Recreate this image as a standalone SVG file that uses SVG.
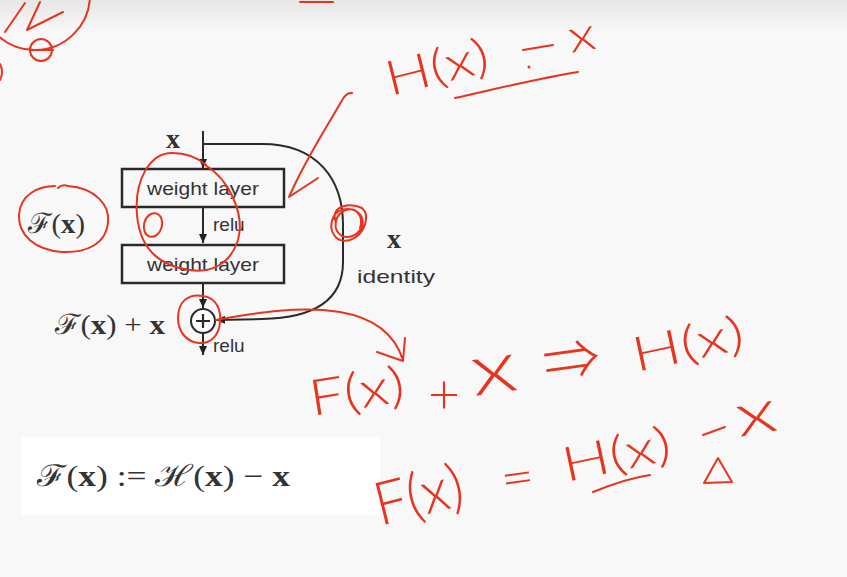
<svg xmlns="http://www.w3.org/2000/svg" width="847" height="577" viewBox="0 0 847 577">
<defs>
<linearGradient id="topband" x1="0" y1="0" x2="0" y2="1">
<stop offset="0" stop-color="#e6e6e6"/>
<stop offset="1" stop-color="#f8f8f8"/>
</linearGradient>
<marker id="ah" markerUnits="userSpaceOnUse" markerWidth="10" markerHeight="10" refX="9" refY="5" orient="auto">
<path d="M0,1 L9,5 L0,9 z" fill="#222"/>
</marker>
<style>
.box{fill:none;stroke:#2a2a2a;stroke-width:2.5}
.wire{fill:none;stroke:#2a2a2a;stroke-width:2}
.sans{font-family:"Liberation Sans","DejaVu Sans",sans-serif;fill:#333;font-size:19px}
.math{font-family:"Liberation Serif","DejaVu Serif",serif;fill:#333}
.mx{font-weight:bold;font-size:28px}
.red{fill:none;stroke:#e8331f;stroke-width:2;stroke-linecap:round;stroke-linejoin:round}
.hand{font-family:Lato,"Liberation Sans","DejaVu Sans",sans-serif;font-weight:300;fill:#e8331f}
.sym{font-family:"Noto Sans CJK JP","DejaVu Sans",sans-serif;font-weight:300;fill:#e8331f}
</style>
</defs>
<rect x="0" y="0" width="847" height="577" fill="#f8f8f8"/>
<rect x="0" y="0" width="847" height="32" fill="url(#topband)"/>
<rect x="22" y="437" width="358" height="78" fill="#ffffff"/>

<g id="connectors">
<path class="wire" d="M203,131 V168" marker-end="url(#ah)"/>
<path class="wire" d="M203,207 V243" marker-end="url(#ah)"/>
<path class="wire" d="M203,284 V308" marker-end="url(#ah)"/>
<path class="wire" d="M203,333 V355" marker-end="url(#ah)"/>
<path class="wire" d="M203,144 H262 C318,144 343,180 343,225 V262 C343,300 315,318 262,319 L216,320" marker-end="url(#ah)"/>
</g>

<g id="input-x"><text class="math mx" x="173" y="148" text-anchor="middle">x</text></g>
<g id="weight-layer-1">
<rect class="box" x="122" y="169" width="162" height="38"/>
<text class="sans" x="203" y="195" text-anchor="middle" textLength="112" lengthAdjust="spacingAndGlyphs">weight layer</text>
</g>
<g id="relu-1"><text class="sans" x="213" y="231">relu</text></g>
<g id="weight-layer-2">
<rect class="box" x="122" y="245" width="162" height="38"/>
<text class="sans" x="203" y="271" text-anchor="middle" textLength="112" lengthAdjust="spacingAndGlyphs">weight layer</text>
</g>
<g id="sum">
<circle cx="203" cy="321" r="12" fill="#fff" stroke="#2a2a2a" stroke-width="2"/>
<path d="M196,321 H210 M203,314 V328" stroke="#2a2a2a" stroke-width="2.2"/>
</g>
<g id="relu-2"><text class="sans" x="213" y="352">relu</text></g>
<g id="identity-label">
<text class="math mx" x="394" y="248" text-anchor="middle">x</text>
<text class="sans" x="396" y="283" text-anchor="middle" textLength="78" lengthAdjust="spacingAndGlyphs">identity</text>
</g>
<g id="fx-label"><text class="math" x="28" y="233" font-size="28" textLength="57" lengthAdjust="spacingAndGlyphs">ℱ(<tspan font-weight="bold">x</tspan>)</text></g>
<g id="fx-plus-x"><text class="math" x="55" y="334" font-size="28" textLength="110" lengthAdjust="spacingAndGlyphs">ℱ(<tspan font-weight="bold">x</tspan>) + <tspan font-weight="bold">x</tspan></text></g>
<g id="formula"><text class="math" x="37" y="486" font-size="30" textLength="253" lengthAdjust="spacingAndGlyphs">ℱ(<tspan font-weight="bold">x</tspan>) := ℋ(<tspan font-weight="bold">x</tspan>) − <tspan font-weight="bold">x</tspan></text></g>

<g id="annotations">
<!-- top-left marks -->
<ellipse class="red" cx="35" cy="-5" rx="55" ry="55"/>
<path class="red" d="M5,32 L25,3 M27,30 L40,2 M27,30 L63,12"/>
<circle class="red" cx="41" cy="50" r="11"/>
<path class="red" d="M30,50 H53"/>
<path class="red" d="M0,64 Q4,72 0,80"/>
<path class="red" d="M300,2 H333"/>
<!-- H(x) = x -->
<text class="hand" x="390" y="96" font-size="48" textLength="105" lengthAdjust="spacingAndGlyphs" transform="rotate(-14 390 96)">H(x)</text>
<path class="red" d="M523,50 L553,45"/>
<circle cx="529" cy="67" r="1.5" fill="#e8331f"/>
<text class="hand" x="571" y="53" font-size="46" textLength="27" lengthAdjust="spacingAndGlyphs" transform="rotate(-10 571 53)">x</text>
<path class="red" d="M455,98 C500,88 540,78 578,72"/>
<path class="red" d="M352,93 Q346,92 341,102 C328,125 305,160 289,197 L318,178"/>
<!-- circles -->
<path class="red" d="M58,188 Q62,184 68,186 C95,188 110,205 108,222 C106,245 85,253 62,252 C35,250 18,235 19,215 C20,195 38,186 55,186"/>
<path class="red" d="M205,165 C230,180 245,215 238,240 C230,265 210,273 190,270 C160,266 140,250 137,215 C134,180 150,153 172,153 C186,153 198,158 206,165"/>
<ellipse class="red" cx="153" cy="225" rx="9" ry="12" transform="rotate(15 153 225)"/>
<path class="red" d="M203,296 C218,298 221,312 220,322 C219,337 209,344 199,343 C186,342 178,331 178,318 C178,302 188,293 203,296"/>
<path class="red" d="M335,220 C332,206 350,202 362,208 C370,215 366,234 350,240 C335,244 328,230 333,218 C338,206 358,206 362,218 C366,230 352,240 342,236 C332,230 334,214 346,210 C356,207 364,216 360,228"/>
<path class="red" d="M216,320 C260,312 300,306 340,312 C375,318 395,335 403,360 M377,352 L403,361 L405,338"/>
<!-- F(x) + x => H(x) -->
<text class="hand" x="312" y="416" font-size="50" textLength="96" lengthAdjust="spacingAndGlyphs" transform="rotate(-9 312 416)">F(x)</text>
<text class="hand" x="428" y="414" font-size="56" textLength="32" lengthAdjust="spacingAndGlyphs">+</text>
<text class="hand" x="474" y="396" font-size="72" textLength="46" lengthAdjust="spacingAndGlyphs" transform="rotate(-8 474 396)">x</text>
<text class="sym" x="546" y="384" font-size="56" textLength="57" lengthAdjust="spacingAndGlyphs" transform="rotate(-8 546 384)">⇒</text>
<text class="hand" x="636" y="372" font-size="48" textLength="113" lengthAdjust="spacingAndGlyphs" transform="rotate(-12 636 372)">H(x)</text>
<!-- F(x) = H(x) - x -->
<text class="hand" x="380" y="526" font-size="60" textLength="90" lengthAdjust="spacingAndGlyphs" transform="rotate(-14 380 526)">F(x)</text>
<text class="hand" x="503" y="497" font-size="50" textLength="34" lengthAdjust="spacingAndGlyphs" transform="rotate(-8 503 497)">=</text>
<text class="hand" x="566" y="482" font-size="48" textLength="110" lengthAdjust="spacingAndGlyphs" transform="rotate(-12 566 482)">H(x)</text>
<text class="hand" x="739" y="437" font-size="60" textLength="41" lengthAdjust="spacingAndGlyphs" transform="rotate(-10 739 437)">x</text>
<path class="red" d="M593,492 C610,485 630,478 650,475"/>
<path class="red" d="M703,435 L725,427"/>
<path class="red" d="M718,458 L704,483 L732,482 Z"/>
</g>
</svg>
